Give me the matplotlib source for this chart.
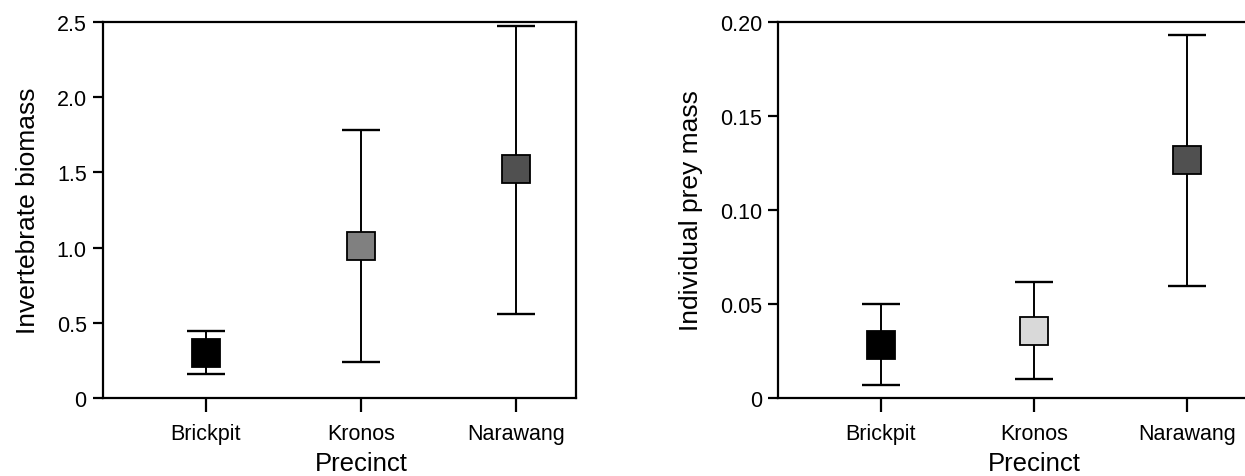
import numpy as np
import matplotlib
matplotlib.use("Agg")
import matplotlib.pyplot as plt

plt.rcParams['font.family'] = ['Liberation Sans', 'DejaVu Sans']

precincts = ["Brickpit", "Kronos", "Narawang"]

# left panel: invertebrate biomass
bio_mean = [0.30, 1.01, 1.52]
bio_low = [0.16, 0.24, 0.56]
bio_high = [0.45, 1.78, 2.47]
bio_colors = ["#000000", "#808080", "#505050"]
bio_ticks = [0, 0.5, 1.0, 1.5, 2.0, 2.5]
bio_ticklabels = ["0", "0.5", "1.0", "1.5", "2.0", "2.5"]

# right panel: individual prey mass
prey_mean = [0.0286, 0.036, 0.1266]
prey_low = [0.0069, 0.0103, 0.0597]
prey_high = [0.0502, 0.0619, 0.193]
prey_colors = ["#000000", "#d9d9d9", "#505050"]
prey_ticks = [0, 0.05, 0.10, 0.15, 0.20]
prey_ticklabels = ["0", "0.05", "0.10", "0.15", "0.20"]

fig = plt.figure(figsize=(12.45, 4.77), dpi=100)
ax1 = fig.add_axes([0.0825, 0.1627, 0.3802, 0.790])
ax2 = fig.add_axes([0.6251, 0.1627, 0.3765, 0.790])


def panel(ax, mean, low, high, colors, ticks, ticklabels, ylabel, xlim):
    x = np.arange(len(precincts))
    mean = np.array(mean)
    yerr = [mean - np.array(low), np.array(high) - mean]
    ax.errorbar(x, mean, yerr=yerr, fmt='none', ecolor='black',
                elinewidth=1.4, capsize=13.5, capthick=1.7, zorder=2)
    for xi, m, c in zip(x, mean, colors):
        ax.plot(xi, m, marker='s', markersize=20.5, markerfacecolor=c,
                markeredgecolor='black', markeredgewidth=1.3, zorder=3)
    ax.set_xlim(*xlim)
    ax.set_ylim(ticks[0], ticks[-1])
    ax.set_yticks(ticks)
    ax.set_yticklabels(ticklabels)
    ax.set_xticks(x)
    ax.set_xticklabels(precincts)
    ax.tick_params(axis='y', length=7.5, width=1.6, labelsize=15.5, pad=4)
    ax.tick_params(axis='x', length=10, width=1.6, labelsize=15.5, pad=8)
    for s in ax.spines.values():
        s.set_linewidth(1.6)
    ax.set_ylabel(ylabel, fontsize=19, labelpad=12)
    ax.set_xlabel("Precinct", fontsize=18.5, labelpad=5)
    ax.xaxis.label.set_x((1 - xlim[0]) / (xlim[1] - xlim[0]))


panel(ax1, bio_mean, bio_low, bio_high, bio_colors, bio_ticks, bio_ticklabels,
      "Invertebrate biomass", (-0.667, 2.39))
panel(ax2, prey_mean, prey_low, prey_high, prey_colors, prey_ticks, prey_ticklabels,
      "Individual prey mass", (-0.67, 2.39))

fig.savefig("out.png", dpi=100)
